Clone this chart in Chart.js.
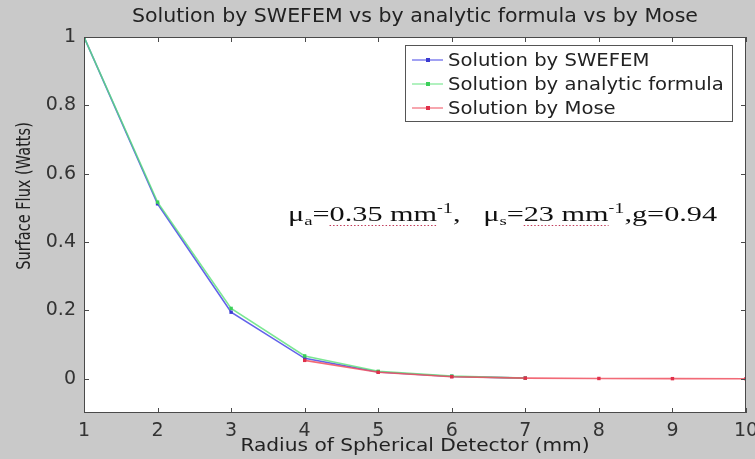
<!DOCTYPE html>
<html>
<head>
<meta charset="utf-8">
<script src="https://cdn.jsdelivr.net/npm/chart.js@4/dist/chart.umd.min.js"></script>
<style>
  html, body { margin: 0; padding: 0; background: #c9c9c9; }
  canvas { display: block; }
</style>
</head>
<body>
<canvas id="fluxChart" width="755" height="459"></canvas>
<script>
/* ---------- data ---------- */
const radiusSwefem = [1, 2, 3, 4, 5, 6, 7];
const fluxSwefem   = [1.0, 0.512, 0.195, 0.060, 0.020, 0.007, 0.002];
const radiusAnalytic = [1, 2, 3, 4, 5, 6, 7];
const fluxAnalytic   = [1.0, 0.517, 0.206, 0.067, 0.022, 0.008, 0.002];
const radiusMose = [4, 5, 6, 7, 8, 9, 10];
const fluxMose   = [0.054, 0.019, 0.006, 0.002, 0.001, 0.0005, 0.0003];
const xTicks = [1, 2, 3, 4, 5, 6, 7, 8, 9, 10];
const yTicks = [0, 0.2, 0.4, 0.6, 0.8, 1];

const chartTitle = "Solution by SWEFEM vs by analytic formula vs by Mose";
const xTitle = "Radius of Spherical Detector (mm)";
const yTitle = "Surface Flux (Watts)";

const SANS = "'DejaVu Sans', sans-serif";
const SERIF = "'Liberation Serif', 'DejaVu Serif', serif";

function pairs(xs, ys) {
    return ys.map((y, i) => ({ x: xs[i], y: y }));
}

// the source figure is a bit wider than tall, so text is stretched sideways
function wideText(ctx, txt, x, y, sx) {
    ctx.save();
    ctx.translate(x, y);
    ctx.scale(sx, 1);
    ctx.fillText(txt, 0, 0);
    ctx.restore();
    return ctx.measureText(txt).width * sx;
}

/* ---------- frame, ticks, title, legend, annotation ---------- */
const figurePlugin = {
    id: "figure",
    beforeDraw(chart) {
        const ctx = chart.ctx;
        const a = chart.chartArea;
        ctx.save();
        ctx.fillStyle = "#c9c9c9";
        ctx.fillRect(0, 0, chart.width, chart.height);
        ctx.fillStyle = "#ffffff";
        ctx.fillRect(a.left, a.top, a.right - a.left, a.bottom - a.top);
        ctx.restore();
    },
    afterDraw(chart) {
        const ctx = chart.ctx;
        const a = chart.chartArea;
        const xs = chart.scales.x;
        const ys = chart.scales.y;
        ctx.save();

        // box
        ctx.strokeStyle = "#4a4a4a";
        ctx.lineWidth = 1;
        ctx.strokeRect(a.left + 0.5, a.top + 0.5, a.right - a.left - 1, a.bottom - a.top - 1);

        // inward tick marks on all four sides
        ctx.beginPath();
        xTicks.forEach(v => {
            const px = Math.round(xs.getPixelForValue(v)) + 0.5;
            ctx.moveTo(px, a.bottom); ctx.lineTo(px, a.bottom - 5);
            ctx.moveTo(px, a.top);    ctx.lineTo(px, a.top + 5);
        });
        yTicks.forEach(v => {
            const py = Math.round(ys.getPixelForValue(v)) + 0.5;
            ctx.moveTo(a.left, py);  ctx.lineTo(a.left + 5, py);
            ctx.moveTo(a.right, py); ctx.lineTo(a.right - 5, py);
        });
        ctx.stroke();

        // title
        const cx = (a.left + a.right) / 2;
        ctx.fillStyle = "#222";
        ctx.textBaseline = "middle";
        ctx.textAlign = "left";
        ctx.font = "19px " + SANS;
        let w = ctx.measureText(chartTitle).width * 1.08;
        wideText(ctx, chartTitle, cx - w / 2, 17, 1.08);

        // axis titles
        ctx.font = "18px " + SANS;
        w = ctx.measureText(xTitle).width * 1.12;
        wideText(ctx, xTitle, cx - w / 2, 446, 1.12);
        ctx.save();
        ctx.font = "15px " + SANS;
        ctx.textAlign = "center";
        ctx.translate(25, 196);
        ctx.rotate(-Math.PI / 2);
        ctx.scale(0.97, 1.35);
        ctx.fillText(yTitle, 0, 0);
        ctx.restore();

        // legend box (inside axes, top right)
        const lx = 405, ly = 45, lw = 327, lh = 76;
        ctx.fillStyle = "#ffffff";
        ctx.fillRect(lx, ly, lw, lh);
        ctx.strokeStyle = "#555";
        ctx.strokeRect(lx + 0.5, ly + 0.5, lw, lh);
        ctx.font = "18px " + SANS;
        chart.data.datasets.forEach((ds, i) => {
            const ry = 60 + i * 24;
            ctx.strokeStyle = ds.borderColor;
            ctx.lineWidth = 1.2;
            ctx.beginPath();
            ctx.moveTo(412, ry); ctx.lineTo(443, ry);
            ctx.stroke();
            ctx.fillStyle = ds.pointBackgroundColor;
            ctx.fillRect(426, ry - 2, 4, 4);
            ctx.fillStyle = "#222";
            wideText(ctx, ds.label, 448, ry + 1, 1.09);
        });

        // parameter annotation
        const by = 221;
        const sx = 1.44;
        let x = 288;
        ctx.fillStyle = "#111";
        ctx.textBaseline = "alphabetic";
        const put = (txt, size, dy) => {
            ctx.font = size + "px " + SERIF;
            x += wideText(ctx, txt, x, by + dy, sx);
        };
        const dotted = (x0, x1) => {
            ctx.save();
            ctx.strokeStyle = "#c03a5a";
            ctx.setLineDash([1.5, 2]);
            ctx.lineWidth = 1;
            ctx.beginPath();
            ctx.moveTo(x0, by + 4.5); ctx.lineTo(x1, by + 4.5);
            ctx.stroke();
            ctx.restore();
        };
        put("\u03bc", 21, 0);
        put("a", 13, 4);
        put("=", 21, 0);
        let u0 = x;
        put("0.35 mm", 21, 0);
        dotted(u0, x);
        put("-", 12, -9);
        put("1", 14, -8);
        put(",   ", 21, 0);
        put("\u03bc", 21, 0);
        put("s", 13, 4);
        put("=", 21, 0);
        u0 = x;
        put("23 mm", 21, 0);
        dotted(u0, x);
        put("-", 12, -9);
        put("1", 14, -8);
        put(",g=0.94", 21, 0);

        ctx.restore();
    }
};

/* ---------- chart ---------- */
const ctx = document.getElementById("fluxChart").getContext("2d");
new Chart(ctx, {
    type: "line",
    data: {
        datasets: [
            {
                label: "Solution by SWEFEM",
                data: pairs(radiusSwefem, fluxSwefem),
                borderColor: "rgba(70,70,230,0.85)",
                pointBackgroundColor: "#3b3bd0",
                pointBorderColor: "#3b3bd0",
                order: 2
            },
            {
                label: "Solution by analytic formula",
                data: pairs(radiusAnalytic, fluxAnalytic),
                borderColor: "rgba(90,225,120,0.8)",
                pointBackgroundColor: "#3ccf5a",
                pointBorderColor: "#3ccf5a",
                order: 1
            },
            {
                label: "Solution by Mose",
                data: pairs(radiusMose, fluxMose),
                borderColor: "rgba(240,80,95,0.85)",
                pointBackgroundColor: "#e0304a",
                pointBorderColor: "#e0304a",
                order: 0
            }
        ]
    },
    options: {
        responsive: false,
        animation: false,
        devicePixelRatio: 1,
        elements: {
            line: { borderWidth: 1.6, tension: 0 },
            point: { pointStyle: "rect", radius: 2.4, borderWidth: 0 }
        },
        layout: { padding: { left: 0, right: 9, top: 37, bottom: 0 } },
        plugins: {
            legend: { display: false },
            title: { display: false },
            tooltip: { enabled: false }
        },
        scales: {
            x: {
                type: "linear",
                min: 1,
                max: 10,
                afterBuildTicks: s => { s.ticks = xTicks.map(v => ({ value: v })); },
                afterFit: s => { s.height = 46; s.paddingLeft = 0; s.paddingRight = 0; },
                grid: { display: false, drawTicks: false },
                border: { display: false },
                ticks: {
                    color: "#333",
                    padding: 7,
                    maxRotation: 0,
                    autoSkip: false,
                    font: { family: SANS, size: 19 }
                }
            },
            y: {
                min: -0.1,
                max: 1,
                afterBuildTicks: s => { s.ticks = yTicks.map(v => ({ value: v })); },
                afterFit: s => { s.width = 84; s.paddingTop = 0; s.paddingBottom = 0; },
                grid: { display: false, drawTicks: false },
                border: { display: false },
                ticks: {
                    color: "#333",
                    padding: 8,
                    autoSkip: false,
                    font: { family: SANS, size: 19 },
                    callback: v => String(Math.round(v * 10) / 10)
                }
            }
        }
    },
    plugins: [figurePlugin]
});
</script>
</body>
</html>
